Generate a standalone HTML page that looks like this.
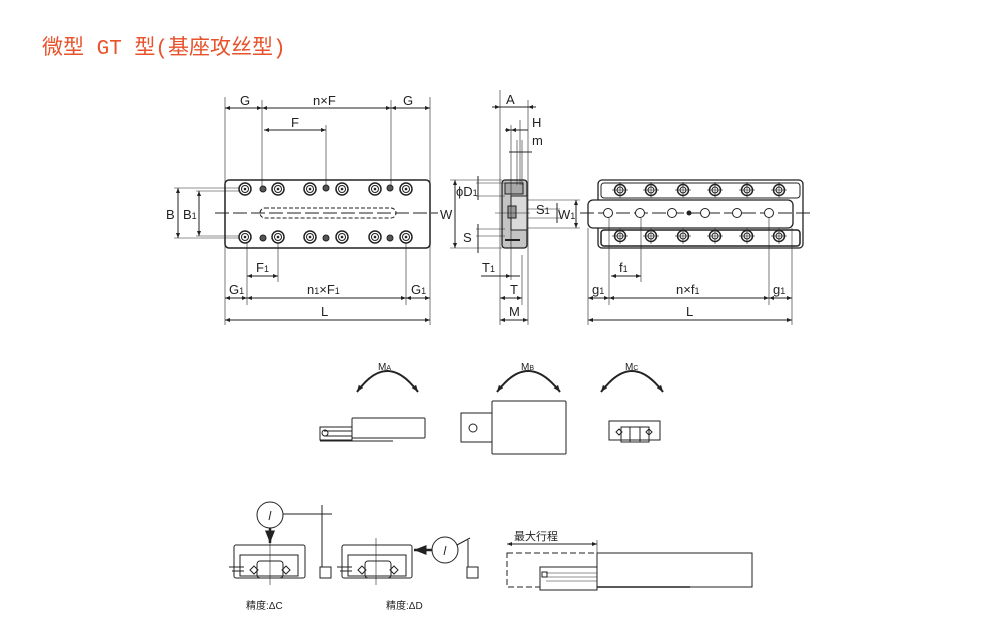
<!DOCTYPE html>
<html><head><meta charset="utf-8"><style>
html,body{margin:0;padding:0;background:#fff;width:1002px;height:617px;overflow:hidden}
svg{display:block}
text{font-family:"Liberation Sans","Noto Sans CJK SC",sans-serif;fill:#222}
</style></head><body>
<svg width="1002" height="617" viewBox="0 0 1002 617" xmlns="http://www.w3.org/2000/svg">
<defs>
<marker id="a" viewBox="0 0 10 10" refX="10" refY="5" markerWidth="5" markerHeight="5" orient="auto-start-reverse"><path d="M0,1 L10,5 L0,9z" fill="#222"/></marker>
<marker id="b" viewBox="0 0 10 10" refX="10" refY="5" markerWidth="3.5" markerHeight="3.5" orient="auto-start-reverse"><path d="M0,1 L10,5 L0,9z" fill="#222"/></marker>
<g id="hb"><circle r="6" fill="#fff" stroke="#222" stroke-width="1.5"/><circle r="3.5" fill="none" stroke="#222" stroke-width="1"/><circle r="1.3" fill="#222"/></g>
<g id="hs"><circle r="3" fill="#555" stroke="#222"/></g>
<g id="hr"><circle r="5.5" fill="#fff" stroke="#222" stroke-width="1.5"/><circle r="3" fill="none" stroke="#222"/><line x1="-8" y1="0" x2="8" y2="0" stroke="#222" stroke-width=".6"/><line x1="0" y1="-8" x2="0" y2="8" stroke="#222" stroke-width=".6"/></g>
<g id="hc"><circle r="4.5" fill="#fff" stroke="#222"/></g>
</defs>
<text x="42" y="54" font-size="21" style="fill:#e8522a;font-family:'Liberation Mono','Noto Sans CJK SC',monospace">微型 GT 型(基座攻丝型)</text>

<g stroke="#222" stroke-width="1" fill="none">
<rect x="225" y="180" width="205" height="68" rx="4" fill="#fff" stroke-width="1.5"/>
<rect x="260" y="208" width="136" height="10" rx="5" stroke-dasharray="4,2"/>
<line x1="215" y1="213" x2="438" y2="213" stroke-dasharray="14,4"/>
<line x1="225" y1="97" x2="225" y2="325" stroke-width=".6"/>
<line x1="430" y1="97" x2="430" y2="325" stroke-width=".6"/>
<line x1="262" y1="100" x2="262" y2="188" stroke-width=".6"/>
<line x1="391" y1="100" x2="391" y2="188" stroke-width=".6"/>
<line x1="326" y1="125" x2="326" y2="188" stroke-width=".6"/>
<line x1="225" y1="108" x2="262" y2="108" marker-start="url(#a)" marker-end="url(#a)"/>
<line x1="262" y1="108" x2="391" y2="108" marker-start="url(#a)" marker-end="url(#a)"/>
<line x1="391" y1="108" x2="430" y2="108" marker-start="url(#a)" marker-end="url(#a)"/>
<line x1="264" y1="130" x2="326" y2="130" marker-start="url(#a)" marker-end="url(#a)"/>
<line x1="174" y1="188" x2="245" y2="188" stroke-width=".6"/>
<line x1="174" y1="238" x2="245" y2="238" stroke-width=".6"/>
<line x1="196" y1="191" x2="245" y2="191" stroke-width=".6"/>
<line x1="196" y1="236" x2="245" y2="236" stroke-width=".6"/>
<line x1="178" y1="188" x2="178" y2="238" marker-start="url(#a)" marker-end="url(#a)"/>
<line x1="199" y1="191" x2="199" y2="236" marker-start="url(#a)" marker-end="url(#a)"/>
<line x1="247" y1="240" x2="247" y2="305" stroke-width=".6"/>
<line x1="278" y1="240" x2="278" y2="282" stroke-width=".6"/>
<line x1="406" y1="240" x2="406" y2="305" stroke-width=".6"/>
<line x1="247" y1="276" x2="278" y2="276" marker-start="url(#a)" marker-end="url(#a)"/>
<line x1="225" y1="298" x2="247" y2="298" marker-start="url(#a)" marker-end="url(#a)"/>
<line x1="247" y1="298" x2="406" y2="298" marker-start="url(#a)" marker-end="url(#a)"/>
<line x1="406" y1="298" x2="430" y2="298" marker-start="url(#a)" marker-end="url(#a)"/>
<line x1="225" y1="320" x2="430" y2="320" marker-start="url(#a)" marker-end="url(#a)"/>

<rect x="502" y="180" width="25" height="68" rx="3" fill="#c4c4c4" stroke-width="1.3"/>
<rect x="511" y="196" width="16" height="34" fill="#dadada"/>
<rect x="505" y="183" width="18" height="11" fill="#a8a8a8"/>
<rect x="508" y="206" width="8" height="12" fill="#999"/>
<line x1="505" y1="240" x2="520" y2="240" stroke-width="2"/>
<line x1="500" y1="90" x2="500" y2="325" stroke-width=".6"/>
<line x1="528" y1="100" x2="528" y2="325" stroke-width=".6"/>
<line x1="520" y1="120" x2="520" y2="185" stroke-width=".6"/>
<line x1="517" y1="140" x2="517" y2="185" stroke-width=".6"/>
<line x1="522" y1="140" x2="522" y2="185" stroke-width=".6"/>
<line x1="511" y1="125" x2="511" y2="280" stroke-width=".6"/>
<line x1="492" y1="107" x2="500" y2="107" marker-end="url(#a)"/>
<line x1="500" y1="107" x2="528" y2="107"/>
<line x1="536" y1="107" x2="528" y2="107" marker-end="url(#a)"/>
<line x1="505" y1="130" x2="511" y2="130" marker-end="url(#a)"/>
<line x1="511" y1="130" x2="528" y2="130" marker-start="url(#a)"/>
<line x1="509" y1="152" x2="532" y2="152"/>
<line x1="450" y1="180" x2="502" y2="180" stroke-width=".6"/>
<line x1="450" y1="248" x2="502" y2="248" stroke-width=".6"/>
<line x1="455" y1="180" x2="455" y2="248" marker-start="url(#a)" marker-end="url(#a)"/>
<line x1="476" y1="183" x2="505" y2="183" stroke-width=".6"/>
<line x1="476" y1="196" x2="505" y2="196" stroke-width=".6"/>
<line x1="478" y1="176" x2="478" y2="200"/>
<line x1="476" y1="229" x2="505" y2="229" stroke-width=".6"/>
<line x1="476" y1="236" x2="505" y2="236" stroke-width=".6"/>
<line x1="478" y1="224" x2="478" y2="253"/>
<line x1="527" y1="200" x2="580" y2="200" stroke-width=".6"/>
<line x1="527" y1="228" x2="580" y2="228" stroke-width=".6"/>
<line x1="527" y1="209" x2="560" y2="209" stroke-width=".6"/>
<line x1="527" y1="218" x2="560" y2="218" stroke-width=".6"/>
<line x1="557" y1="203" x2="557" y2="223"/>
<line x1="576" y1="200" x2="576" y2="228" marker-start="url(#a)" marker-end="url(#a)"/>
<line x1="495" y1="213" x2="530" y2="213" stroke-width=".6"/>
<line x1="481" y1="276" x2="511" y2="276" marker-end="url(#a)"/>
<line x1="520" y1="276" x2="511" y2="276"/>
<line x1="500" y1="298" x2="522" y2="298" marker-start="url(#a)" marker-end="url(#a)"/>
<line x1="522" y1="255" x2="522" y2="305" stroke-width=".6"/>
<line x1="500" y1="320" x2="528" y2="320" marker-start="url(#a)" marker-end="url(#a)"/>

<rect x="598" y="180" width="205" height="68" rx="4" fill="#fff" stroke-width="1.3"/>
<rect x="601" y="183" width="199" height="15" rx="3"/>
<rect x="601" y="230" width="199" height="16" rx="3" stroke-width="1.5"/>
<rect x="588" y="200" width="205" height="28" rx="5" fill="#fff" stroke-width="1.3"/>
<line x1="580" y1="213" x2="812" y2="213" stroke-dasharray="14,4"/>
<line x1="588" y1="228" x2="588" y2="325" stroke-width=".6"/>
<line x1="792" y1="228" x2="792" y2="325" stroke-width=".6"/>
<line x1="609" y1="218" x2="609" y2="305" stroke-width=".6"/>
<line x1="641" y1="218" x2="641" y2="282" stroke-width=".6"/>
<line x1="769" y1="218" x2="769" y2="305" stroke-width=".6"/>
<line x1="611" y1="276" x2="641" y2="276" marker-start="url(#a)" marker-end="url(#a)"/>
<line x1="588" y1="298" x2="609" y2="298" marker-start="url(#a)" marker-end="url(#a)"/>
<line x1="609" y1="298" x2="769" y2="298" marker-start="url(#a)" marker-end="url(#a)"/>
<line x1="769" y1="298" x2="792" y2="298" marker-start="url(#a)" marker-end="url(#a)"/>
<line x1="588" y1="320" x2="792" y2="320" marker-start="url(#a)" marker-end="url(#a)"/>

<path d="M357,392 Q387,350 418,392" stroke-width="2" marker-start="url(#b)" marker-end="url(#b)"/>
<path d="M497,392 Q528,350 560,392" stroke-width="2" marker-start="url(#b)" marker-end="url(#b)"/>
<path d="M601,392 Q632,350 663,392" stroke-width="2" marker-start="url(#b)" marker-end="url(#b)"/>
<rect x="352" y="418" width="73" height="20" rx="1"/>
<rect x="320" y="427" width="32" height="13"/>
<line x1="324" y1="431" x2="352" y2="431"/>
<line x1="324" y1="436" x2="352" y2="436"/>
<circle cx="325" cy="433" r="3"/>
<line x1="320" y1="441" x2="393" y2="441"/>
<rect x="461" y="413" width="31" height="29"/>
<circle cx="473" cy="428" r="4"/>
<rect x="492" y="401" width="74" height="53" rx="1"/>
<rect x="609" y="421" width="51" height="19"/>
<rect x="621" y="427" width="28" height="15"/>
<line x1="630" y1="427" x2="630" y2="442"/><line x1="640" y1="427" x2="640" y2="442"/>
<path d="M619,429 l3,3 -3,3 -3,-3z M649,429 l3,3 -3,3 -3,-3z"/>

<circle cx="270" cy="515" r="13"/>
<line x1="269" y1="520" x2="271" y2="511"/>
<line x1="283" y1="514" x2="332" y2="514"/>
<line x1="322" y1="505" x2="322" y2="567"/>
<rect x="320" y="567" width="11" height="11"/>
<line x1="270" y1="528" x2="270" y2="543" stroke-width="2.5" marker-end="url(#a)"/>
<rect x="234" y="545" width="71" height="33" rx="2"/>
<rect x="240" y="555" width="58" height="21"/>
<rect x="257" y="561" width="26" height="17" rx="3"/>
<line x1="270" y1="534" x2="270" y2="585" stroke-width=".6"/>
<path d="M254,566 l4,4 -4,4 -4,-4z M286,566 l4,4 -4,4 -4,-4z"/>
<line x1="229" y1="567" x2="244" y2="567"/><line x1="232" y1="571" x2="244" y2="571"/>
<rect x="342" y="545" width="70" height="33" rx="2"/>
<rect x="348" y="555" width="58" height="21"/>
<rect x="365" y="561" width="26" height="17" rx="3"/>
<line x1="376" y1="538" x2="376" y2="585" stroke-width=".6"/>
<path d="M362,566 l4,4 -4,4 -4,-4z M394,566 l4,4 -4,4 -4,-4z"/>
<line x1="337" y1="567" x2="352" y2="567"/><line x1="340" y1="571" x2="352" y2="571"/>
<circle cx="445" cy="550" r="13"/>
<line x1="444" y1="555" x2="446" y2="546"/>
<line x1="432" y1="550" x2="414" y2="550" stroke-width="2.5" marker-end="url(#a)"/>
<line x1="457" y1="545" x2="470" y2="538"/>
<line x1="468" y1="540" x2="468" y2="567"/>
<rect x="467" y="567" width="11" height="11"/>
<line x1="507" y1="544" x2="597" y2="544" marker-start="url(#a)" marker-end="url(#a)"/>
<line x1="597" y1="540" x2="597" y2="553" stroke-width=".6"/>
<rect x="507" y="553" width="90" height="34" stroke-dasharray="6,3"/>
<rect x="597" y="553" width="155" height="34" fill="#fff"/>
<rect x="540" y="567" width="57" height="23" fill="#fff"/>
<line x1="546" y1="573" x2="597" y2="573" stroke-width=".6"/>
<line x1="546" y1="577" x2="597" y2="577" stroke-width=".6"/>
<line x1="546" y1="581" x2="597" y2="581" stroke-width=".6"/>
<rect x="542" y="572" width="5" height="5"/>
<line x1="597" y1="587" x2="690" y2="587" stroke-width="1.5"/>
</g>

<g>
<use href="#hb" x="245" y="189"/><use href="#hb" x="278" y="189"/><use href="#hb" x="310" y="189"/><use href="#hb" x="342" y="189"/><use href="#hb" x="375" y="189"/><use href="#hb" x="406" y="189"/>
<use href="#hs" x="263" y="189"/><use href="#hs" x="326" y="188"/><use href="#hs" x="390" y="188"/>
<use href="#hb" x="245" y="237"/><use href="#hb" x="278" y="237"/><use href="#hb" x="310" y="237"/><use href="#hb" x="342" y="237"/><use href="#hb" x="375" y="237"/><use href="#hb" x="406" y="237"/>
<use href="#hs" x="263" y="238"/><use href="#hs" x="326" y="238"/><use href="#hs" x="390" y="238"/>
<use href="#hr" x="620" y="190"/><use href="#hr" x="651" y="190"/><use href="#hr" x="683" y="190"/><use href="#hr" x="715" y="190"/><use href="#hr" x="747" y="190"/><use href="#hr" x="779" y="190"/>
<use href="#hr" x="620" y="236"/><use href="#hr" x="651" y="236"/><use href="#hr" x="683" y="236"/><use href="#hr" x="715" y="236"/><use href="#hr" x="747" y="236"/><use href="#hr" x="779" y="236"/>
<use href="#hc" x="608" y="213"/><use href="#hc" x="640" y="213"/><use href="#hc" x="672" y="213"/><use href="#hc" x="705" y="213"/><use href="#hc" x="737" y="213"/><use href="#hc" x="769" y="213"/>
<circle cx="689" cy="213" r="2.5" fill="#222"/>
</g>

<g font-size="13">
<text x="240" y="105">G</text><text x="313" y="105">n×F</text><text x="403" y="105">G</text>
<text x="291" y="127">F</text>
<text x="166" y="219">B</text><text x="183" y="219">B<tspan font-size="9">1</tspan></text>
<text x="440" y="219">W</text>
<text x="256" y="272">F<tspan font-size="9">1</tspan></text>
<text x="229" y="294">G<tspan font-size="9">1</tspan></text>
<text x="307" y="294">n<tspan font-size="9">1</tspan>×F<tspan font-size="9">1</tspan></text>
<text x="411" y="294">G<tspan font-size="9">1</tspan></text>
<text x="321" y="316">L</text>
<text x="506" y="104">A</text><text x="532" y="127">H</text><text x="532" y="145">m</text>
<text x="456" y="196">ϕD<tspan font-size="9">1</tspan></text>
<text x="536" y="214">S<tspan font-size="9">1</tspan></text>
<text x="558" y="219">W<tspan font-size="9">1</tspan></text>
<text x="463" y="242">S</text>
<text x="482" y="272">T<tspan font-size="9">1</tspan></text>
<text x="510" y="294">T</text><text x="509" y="316">M</text>
<text x="619" y="272">f<tspan font-size="9">1</tspan></text>
<text x="592" y="294">g<tspan font-size="9">1</tspan></text>
<text x="676" y="294">n×f<tspan font-size="9">1</tspan></text>
<text x="773" y="294">g<tspan font-size="9">1</tspan></text>
<text x="686" y="316">L</text>
</g>
<g font-size="10">
<text x="378" y="370">M<tspan font-size="7">A</tspan></text>
<text x="521" y="370">M<tspan font-size="7">B</tspan></text>
<text x="625" y="370">M<tspan font-size="7">C</tspan></text>
<text x="514" y="540" font-size="11">最大行程</text>
<text x="246" y="609">精度:ΔC</text>
<text x="386" y="609">精度:ΔD</text>
</g>
</svg>
</body></html>
